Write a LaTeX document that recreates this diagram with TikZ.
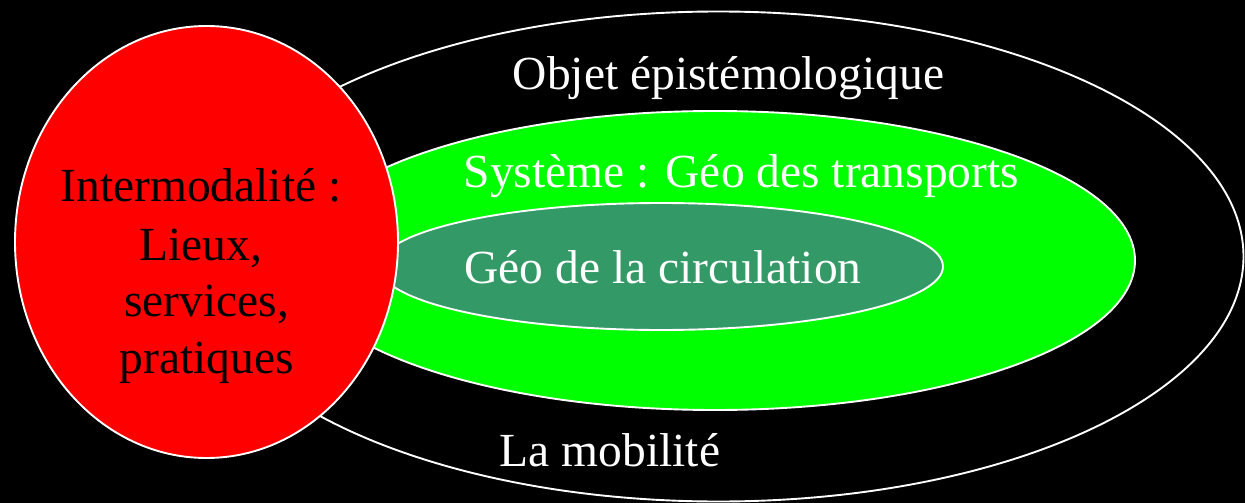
\documentclass[tikz,border=0pt]{standalone}
\usepackage{fontspec}
\setmainfont{Liberation Serif}
\usetikzlibrary{shapes.geometric}
\definecolor{seagreenx}{RGB}{51,153,102}
\definecolor{limex}{RGB}{0,255,0}
\definecolor{redx}{RGB}{255,0,0}
\begin{document}
\begin{tikzpicture}[x=1pt,y=-1pt,
  ring/.style={ellipse,draw=white,line width=1.9pt,inner sep=0pt,outer sep=0pt},
  lbl/.style={inner sep=0pt,anchor=base,font=\fontsize{47.5}{57}\selectfont},
  wlbl/.style={lbl,text=white},
  blbl/.style={lbl,text=black}]
\fill[black] (0,0) rectangle (1245,503);
\useasboundingbox (0,0) rectangle (1245,503);
\node[ring,fill=black,minimum width=1050pt,minimum height=490pt] (outer) at (718.5,256.5) {};
\node[ring,fill=limex,minimum width=840pt,minimum height=299pt] (sys) at (715,260.5) {};
\node[ring,fill=seagreenx,minimum width=564pt,minimum height=127pt] (circ) at (661,266.5) {};
\node[ring,fill=redx,minimum width=383pt,minimum height=432pt] (inter) at (206.5,242) {};
\node[wlbl] (tobj) at (728.5,89.5) {Objet épistémologique};
\node[wlbl] (tsys) at (741.5,187) {Système : Géo des transports};
\node[wlbl] (tcirc) at (663,283) {Géo de la circulation};
\node[wlbl] (tmob) at (610,466.5) {La mobilité};
\node[blbl] (r1) at (201,201.7) {Intermodalité :};
\node[blbl] (r2) at (201,260) {Lieux,};
\node[blbl] (r3) at (206.5,316.7) {services,};
\node[blbl] (r4) at (206.5,373) {pratiques};
\end{tikzpicture}
\end{document}
